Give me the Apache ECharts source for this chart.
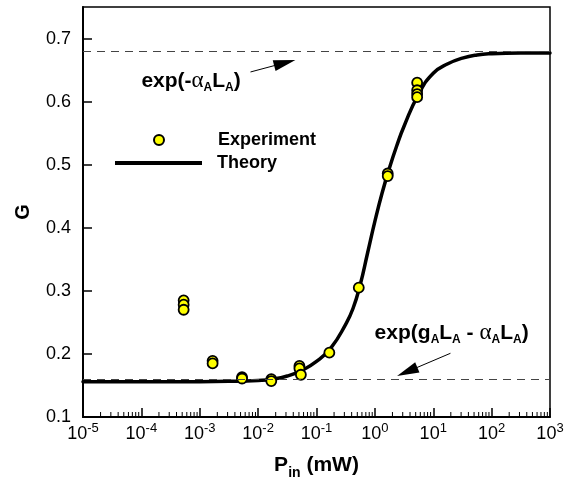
<!DOCTYPE html>
<html><head><meta charset="utf-8">
<script src="https://cdn.jsdelivr.net/npm/echarts@6/dist/echarts.min.js"></script>
<style>html,body{margin:0;padding:0;background:#fff}#c{width:575px;height:485px}</style>
</head><body><div id="c"></div>
<script>
// ---- data ----
const xTickExponents = ['-5','-4','-3','-2','-1','0','1','2','3'];
const yTickLabels = ['0.1','0.2','0.3','0.4','0.5','0.6','0.7'];
const theoryP = [1e-5, 1e-4, 1e-3, 3.16e-3, 0.01, 0.0178, 0.0316, 0.0562, 0.1, 0.178, 0.316, 0.422, 0.562, 0.75, 1.0, 1.33, 1.78, 2.37, 3.16, 5.62, 10, 17.8, 31.6, 56.2, 100, 316, 1000];
const theoryG = [0.156, 0.156, 0.156, 0.1565, 0.158, 0.160, 0.165, 0.174, 0.188, 0.210, 0.247, 0.272, 0.310, 0.360, 0.410, 0.455, 0.495, 0.530, 0.561, 0.612, 0.645, 0.660, 0.669, 0.674, 0.676, 0.677, 0.677];
const expP = [5.3e-4,5.3e-4,5.3e-4,1.66e-3,1.66e-3,5.3e-3,5.3e-3,0.0168,0.0168,0.051,0.051,0.054,0.166,0.53,1.66,1.66,5.3,5.3,5.3,5.3];
const expG = [0.285,0.278,0.270,0.189,0.185,0.163,0.161,0.160,0.157,0.181,0.177,0.167,0.202,0.305,0.486,0.482,0.630,0.618,0.612,0.607];
const refLevels = [0.677, 0.156];

// annotation anchors (data coords)
const annot1 = { text: [1.0e-4, 0.632], tail: [0.0074, 0.647], tip: [0.0435, 0.666] };
const annot2 = { text: [0.99, 0.233], tail: [19.7, 0.201], tip: [2.40, 0.165] };

const FONT = '"Liberation Sans", Arial, Helvetica, sans-serif';
const chart = echarts.init(document.getElementById('c'));

const minorTicks = [];
for (let i = 0; i < xTickExponents.length - 1; i++) {
  const e = Number(xTickExponents[i]);
  for (let k = 2; k <= 9; k++) minorTicks.push([k * Math.pow(10, e), 0.1]);
}

chart.setOption({
  animation: false,
  backgroundColor: '#fff',
  grid: { left: 83, right: 25, top: 7, bottom: 59, show: true, borderColor: '#000', borderWidth: 1.5, backgroundColor: 'transparent' },
  legend: [
    { data: [{ name: 'Experiment', icon: 'circle' }], left: 153, top: 131, padding: 0, itemWidth: 10, itemHeight: 10, selectedMode: false,
      textStyle: { fontFamily: FONT, fontSize: 18, fontWeight: 'bold', color: '#000', padding: [0, 0, 0, 49] } },
    { data: [{ name: 'Theory', icon: 'rect' }], left: 115, top: 154, padding: 0, itemWidth: 87, itemHeight: 4, selectedMode: false,
      textStyle: { fontFamily: FONT, fontSize: 18, fontWeight: 'bold', color: '#000', padding: [0, 0, 0, 10] } }
  ],
  xAxis: {
    type: 'log', logBase: 10, min: 1e-5, max: 1e3, interval: 1, splitNumber: 8,
    axisLine: { lineStyle: { color: '#000', width: 2 } },
    axisTick: { inside: true, length: 9, lineStyle: { color: '#000', width: 1.5 } },
    splitLine: { show: false },
    axisLabel: {
      margin: 5,
      formatter: function (v) {
        const e = String(Math.round(Math.log10(v)));
        const lab = xTickExponents.indexOf(e) >= 0 ? e : '';
        return '{a|10}{e|' + lab + '}';
      },
      rich: {
        a: { fontFamily: FONT, fontSize: 18, color: '#000', lineHeight: 19, padding: [5, 0, 0, 0] },
        e: { fontFamily: FONT, fontSize: 13, color: '#000', lineHeight: 13, verticalAlign: 'top' }
      }
    },
    name: 'P{s|in} (mW)', nameLocation: 'middle', nameGap: 38,
    nameTextStyle: { fontFamily: FONT, fontSize: 21, fontWeight: 'bold', color: '#000',
      rich: { s: { fontFamily: FONT, fontSize: 14, fontWeight: 'bold', color: '#000', verticalAlign: 'bottom', lineHeight: 14, padding: [0, 0, -4, 0] } } }
  },
  yAxis: {
    type: 'value', min: 0.1, max: 0.75, interval: 0.1,
    axisLine: { lineStyle: { color: '#000', width: 2 } },
    axisTick: { inside: true, length: 9, lineStyle: { color: '#000', width: 1.5 } },
    splitLine: { show: false },
    axisLabel: {
      margin: 12, fontFamily: FONT, fontSize: 18, color: '#000', showMaxLabel: false,
      formatter: function (v) { const s = v.toFixed(1); return yTickLabels.indexOf(s) >= 0 && Math.abs(v - Number(s)) < 1e-6 ? s : ''; }
    },
    name: 'G', nameLocation: 'middle', nameGap: 50,
    nameTextStyle: { fontFamily: FONT, fontSize: 20, fontWeight: 'bold', color: '#000' }
  },
  series: [
    { name: 'ref', type: 'line', data: [], z: 1, silent: true,
      markLine: { silent: true, symbol: 'none', label: { show: false },
        lineStyle: { type: [8, 6], color: '#444', width: 1 },
        data: refLevels.map(v => ({ yAxis: v })) } },
    { name: 'Theory', type: 'line', z: 3, showSymbol: false, smooth: 0.5,
      color: '#000', itemStyle: { color: '#000' },
      lineStyle: { color: '#000', width: 3.5, join: 'round', cap: 'round' },
      data: theoryP.map((p, i) => [p, theoryG[i]]) },
    { name: 'Experiment', type: 'scatter', z: 4, symbolSize: 10,
      itemStyle: { color: '#ffff00', borderColor: '#000', borderWidth: 1.8, opacity: 1 },
      data: expP.map((p, i) => [p, expG[i]]) },
    { name: 'minor', type: 'custom', z: 5, silent: true, clip: false,
      renderItem: function (params, api) {
        const p = api.coord([api.value(0), api.value(1)]);
        return { type: 'line', shape: { x1: p[0], y1: p[1], x2: p[0], y2: p[1] - 5 }, style: { stroke: '#000', lineWidth: 1 } };
      },
      data: minorTicks }
  ]
});

function arrow(tail, tip) {
  const a = chart.convertToPixel({ gridIndex: 0 }, tail);
  const b = chart.convertToPixel({ gridIndex: 0 }, tip);
  const dx = b[0] - a[0], dy = b[1] - a[1];
  const L = Math.sqrt(dx * dx + dy * dy);
  const ux = dx / L, uy = dy / L, nx = -uy, ny = ux;
  const hl = 22, hw = 5.5;
  const bx = b[0] - ux * hl, by = b[1] - uy * hl;
  return [
    { type: 'line', shape: { x1: a[0], y1: a[1], x2: bx + ux * 2, y2: by + uy * 2 }, style: { stroke: '#000', lineWidth: 1 } },
    { type: 'polygon', shape: { points: [[b[0], b[1]], [bx + nx * hw, by + ny * hw], [bx - nx * hw, by - ny * hw]] }, style: { fill: '#000' } }
  ];
}
const subStyle = { fontFamily: FONT, fontSize: 12, fontWeight: 'bold', fill: '#000', verticalAlign: 'bottom', lineHeight: 12 };
const greek = { fontFamily: '"Liberation Serif", serif', fontSize: 23, fontWeight: 'normal', fill: '#000', lineHeight: 25 };
function label(pos, text) {
  const p = chart.convertToPixel({ gridIndex: 0 }, pos);
  return { type: 'text', x: p[0], y: p[1], style: {
    text: text, fontFamily: FONT, fontSize: 21, fontWeight: 'bold', fill: '#000', lineHeight: 25,
    align: 'left', verticalAlign: 'middle', rich: { s: subStyle, g: greek } } };
}
chart.setOption({
  graphic: [].concat(
    arrow(annot1.tail, annot1.tip),
    arrow(annot2.tail, annot2.tip),
    [label(annot1.text, 'exp(-{g|α}{s|A}L{s|A})'),
     label(annot2.text, 'exp(g{s|A}L{s|A} - {g|α}{s|A}L{s|A})')]
  )
});
</script>
</body></html>
